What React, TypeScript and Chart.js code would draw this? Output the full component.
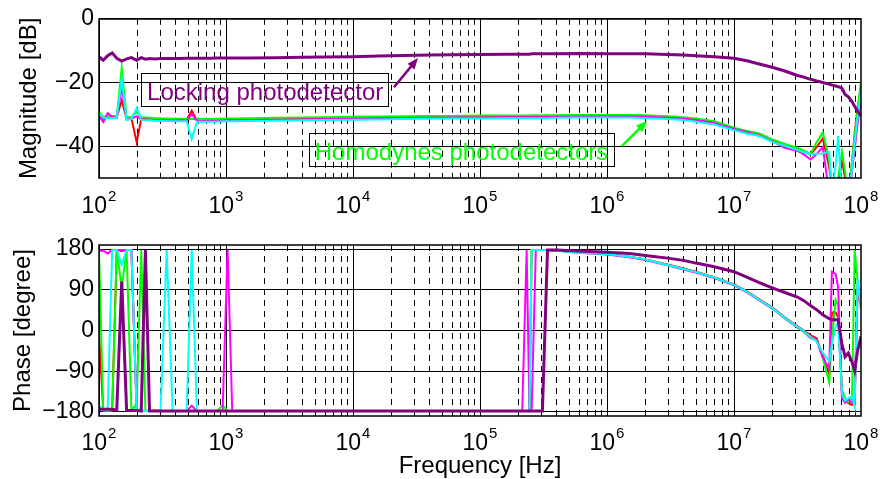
import React, { useEffect, useRef } from 'react';
import { Chart, registerables } from 'chart.js';

Chart.register(...registerables);

const FONT = '"Liberation Sans", Arial, Helvetica, sans-serif';

// ---------- data ----------
const FREQ = [
  100, 108, 117, 127, 138, 151, 165, 180, 198, 215, 232, 250, 275, 305, 341, 380, 430, 490, 537, 590, 660, 750, 850, 940, 1030, 1120,
  1500, 2500, 4000, 6000, 1e4, 1.6e4, 2.5e4, 4e4, 6e4, 1e5, 1.6e5,
  2e5, 2.15e5, 2.33e5, 2.45e5, 2.55e5, 2.75e5, 3.1e5, 3.4e5,
  4e5, 6e5, 1e6, 1.5e6, 2e6, 3e6, 4e6, 5e6, 7e6, 1e7,
  1.26e7, 1.58e7, 2e7, 2.51e7, 3.16e7, 3.55e7, 4e7, 4.47e7, 5e7, 5.62e7, 5.9e7, 6.31e7, 6.6e7, 7.08e7, 7.5e7, 7.94e7, 8.5e7, 8.91e7, 9.4e7, 1e8,
];

// Magnitude [dB]
const MAG_PURPLE = [
  -11.9, -13.0, -11.6, -10.7, -12.4, -13.3, -12.6, -12.2, -13.0, -12.2, -12.7, -12.5, -12.6, -12.5, -12.5, -12.5, -12.5, -12.4, -12.4, -12.4, -12.4, -12.4, -12.3, -12.3, -12.3, -12.3,
  -12.3, -12.2, -12.1, -12.0, -11.9, -11.7, -11.5, -11.4, -11.3, -11.2, -11.1,
  -11.1, -11.1, -11.1, -11.1, -11.0, -11.0, -11.0, -11.0,
  -11.0, -10.9, -11.0, -11.0, -11.0, -11.2, -11.4, -11.6, -11.9, -12.4,
  -13.2, -14.2, -15.2, -16.4, -17.8, -18.3, -19.0, -19.5, -20.0, -20.5, -20.8, -21.1, -21.3, -21.8, -23.8, -24.5, -26.0, -27.5, -29.0, -30.5,
];
const MAG_CYAN = [
  -29.7, -31.1, -31.2, -31.2, -31.0, -18.7, -31.8, -31.5, -28.0, -31.7, -31.9, -31.9, -32.0, -32.1, -32.1, -32.2, -32.2, -32.2, -37.8, -32.3, -32.3, -32.3, -32.3, -32.2, -32.2, -32.2,
  -32.1, -32.0, -31.9, -31.8, -31.7, -31.6, -31.5, -31.4, -31.3, -31.3, -31.2,
  -31.2, -31.2, -31.2, -31.2, -31.2, -31.2, -31.2, -31.2,
  -31.1, -31.0, -31.0, -31.0, -31.2, -31.5, -31.8, -32.3, -33.2, -35.0,
  -36.0, -36.8, -38.7, -39.9, -41.2, -41.9, -42.5, -42.4, -42.3, -41.8, -55, -46, -36.8, -55, -56, -56, -47, -39, -31, -22.6,
];
const MAG_MAGENTA = [
  -30.5, -32.4, -29.6, -30.8, -31.0, -21.5, -31.6, -31.3, -30.6, -31.6, -31.6, -31.7, -31.9, -32.0, -31.9, -32.1, -31.9, -32.0, -29.9, -32.0, -32.1, -32.0, -32.1, -32.0, -31.7, -32.0,
  -31.8, -31.7, -31.6, -31.5, -31.4, -31.3, -31.2, -31.1, -31.0, -31.0, -30.9,
  -30.9, -30.9, -30.9, -30.9, -30.9, -30.9, -30.9, -30.9,
  -30.8, -30.7, -30.7, -30.7, -30.8, -31.1, -31.4, -31.8, -32.7, -34.6,
  -35.6, -36.6, -38.5, -40.5, -41.5, -42.6, -44.2, -42.5, -40.3, -55, -56, -56, -56, -56, -55, -56, -48, -41, -33, -25.6,
];
const MAG_GREEN = [
  -29.2, -30.9, -30.6, -30.5, -30.6, -15.4, -31.0, -30.8, -29.2, -30.9, -31.0, -31.1, -31.2, -31.3, -31.3, -31.4, -31.4, -31.4, -31.5, -31.4, -31.5, -31.5, -31.4, -31.4, -31.3, -31.3,
  -31.2, -31.1, -31.0, -30.9, -30.8, -30.7, -30.6, -30.5, -30.5, -30.4, -30.4,
  -30.4, -30.4, -30.4, -30.4, -30.3, -30.3, -30.3, -30.3,
  -30.3, -30.2, -30.2, -30.2, -30.3, -30.6, -30.9, -31.3, -32.2, -34.2,
  -35.2, -36.0, -37.9, -39.3, -40.6, -41.3, -42.5, -38.8, -35.7, -44, -52, -55, -50, -41.8, -48, -56, -45, -37, -29, -19.7,
];
const MAG_RED = [
  -30.0, -31.4, -31.0, -30.8, -31.0, -25.6, -31.4, -31.2, -38.8, -31.4, -31.5, -31.6, -31.8, -31.8, -31.9, -31.8, -31.9, -31.7, -28.8, -31.9, -32.0, -32.0, -31.9, -31.9, -31.9, -31.8,
  -31.7, -31.6, -31.5, -31.4, -31.3, -31.2, -31.1, -31.0, -30.9, -30.9, -30.8,
  -30.8, -30.8, -30.8, -30.8, -30.8, -30.7, -30.7, -30.7,
  -30.7, -30.6, -30.6, -30.6, -30.7, -31.0, -31.3, -31.7, -32.6, -34.5,
  -35.4, -36.3, -38.2, -39.5, -41.0, -41.7, -42.7, -40.3, -37.6, -46.5, -53, -55, -52, -44.7, -50, -56, -45, -36, -28, -21.5,
];

// Phase [degree]
const PH_PURPLE = [
  -174, -174, -174, -174, -176, 108, -177, -177, -177, -178, 178, -178, -178, -178, -178, -178, -178, -178, -178, -178, -178, -178, -178, -178, -178, -178,
  -178, -178, -178, -178, -178, -178, -178, -178, -178, -178, -178,
  -178, -178, -178, -178, -178, -178, -178, 178,
  178, 176, 173, 170, 166, 160, 155, 149, 141, 130,
  118, 106, 94, 84, 74, 66, 55, 46, 35, 26, 24, 24, 24, -30, -58, -50, -70, -89, -45, -13,
];
const PH_CYAN = [
  -165, -175, -176, 178, 178, 145, 178, 178, -177, -177, -178, -178, -178, -178, 178, -178, -178, -178, 178, -178, -178, -178, -178, -178, -178, -178,
  -178, -178, -178, -178, -178, -178, -178, -178, -178, -178, -178,
  -178, -178, -178, -178, 178, 178, 178, 178,
  177, 172, 169, 163, 157, 145, 136, 129, 117, 101,
  86, 68, 50, 28, 8, -1, -14, -24, -49, -68, -30, 8, 18, -140, -155, -150, -145, -168, 112, 53,
];
const PH_MAGENTA = [
  176, 177, 170, 178, 178, 178, 178, 178, -177, -178, -178, -178, -178, -178, -178, -178, -178, -178, -166, -178, -178, -178, -178, -178, 178, -178,
  -178, -178, -178, -178, -178, -178, -178, -178, -178, -178, -178,
  -178, -178, 178, -178, -178, 178, 178, 178,
  177, 172, 168, 162, 156, 144, 135, 128, 116, 100,
  85, 67, 49, 27, 7, -2, -15, -21, -60, -85, 130, 125, 97, -150, -160, -151, -160, -150, 105, 55,
];
const PH_GREEN = [
  178, -177, -178, -176, 178, 95, 178, -176, -163, 178, -177, -178, -178, -178, -178, -178, -178, -178, -178, -178, -178, -178, -178, -165, -178, -178,
  -178, -178, -178, -178, -178, -178, -178, -178, -178, -178, -178,
  -178, -178, -178, -178, 178, 178, 178, 178,
  177, 172, 169, 163, 157, 145, 136, 129, 117, 101,
  86, 67, 49, 27, 6, -3, -17, -22, -60, -115, -20, 68, 55, -130, -150, -158, -150, 178, 112, 46,
];
const PH_RED = [
  -5, -177, -178, -177, 178, 176, 178, 178, -177, -178, -178, -178, -177, -178, -178, -178, -178, -178, -178, -178, -178, -178, -178, -178, -178, -178,
  -178, -178, -178, -178, -178, -178, -178, -178, -178, -178, -178,
  -178, -178, -178, -178, 178, 178, 178, 178,
  177, 173, 169, 163, 157, 146, 137, 130, 118, 102,
  87, 69, 51, 29, 9, 0, -10, -17, -55, -96, 40, 40, 30, -140, -155, -160, -165, -160, 80, 60,
];

const MAG_TICKS = [-40, -20, 0];
const PHASE_TICKS = [-180, -90, 0, 90, 180];
const DECADES = [2, 3, 4, 5, 6, 7, 8];

// ---------- styles ----------
const PURPLE = '#800080';
const STYLES = [
  { color: PURPLE, width: 3 },
  { color: '#00ffff', width: 2 },
  { color: '#ff00ff', width: 2 },
  { color: '#00ff00', width: 2 },
  { color: '#ff0000', width: 2 },
];

const ANNOTATIONS = [
  { text: 'Locking photodetector', color: PURPLE, at: [239, -25.6], from: [2.1e4, -21.5], to: [3.25e4, -12.35] },
  { text: 'Homodynes photodetectors', color: '#00ff00', at: [5.0e3, -44.4], from: [1.31e6, -40], to: [2.07e6, -32.1] },
];

function fmtTick(v: number) {
  return v < 0 ? '\u2212' + Math.abs(v) : String(v);
}

function makeDatasets(series: number[][]) {
  return series.map((vals, i) => ({
    data: FREQ.map((f, k) => ({ x: f, y: vals[k] })),
    borderColor: STYLES[i].color,
    borderWidth: STYLES[i].width,
    pointRadius: 0,
    tension: 0,
    fill: false,
    clip: 0,
  }));
}

function drawArrow(ctx: CanvasRenderingContext2D, x1: number, y1: number, x2: number, y2: number, color: string) {
  const a = Math.atan2(y2 - y1, x2 - x1);
  const L = 11;
  const W = 4.5;
  ctx.save();
  ctx.strokeStyle = color;
  ctx.fillStyle = color;
  ctx.lineWidth = 2.5;
  ctx.beginPath();
  ctx.moveTo(x1, y1);
  ctx.lineTo(x2 - L * 0.8 * Math.cos(a), y2 - L * 0.8 * Math.sin(a));
  ctx.stroke();
  ctx.beginPath();
  ctx.moveTo(x2, y2);
  ctx.lineTo(x2 - L * Math.cos(a) + W * Math.sin(a), y2 - L * Math.sin(a) - W * Math.cos(a));
  ctx.lineTo(x2 - L * Math.cos(a) - W * Math.sin(a), y2 - L * Math.sin(a) + W * Math.cos(a));
  ctx.closePath();
  ctx.fill();
  ctx.restore();
}

function makePlugin(kind: 'mag' | 'phase') {
  return {
    id: 'bode_' + kind,
    beforeDatasetsDraw(chart: any) {
      const { ctx, chartArea: a, scales } = chart;
      const x = scales.x;
      ctx.save();
      ctx.strokeStyle = '#000';
      ctx.lineWidth = 1;
      for (let i = 0; i < DECADES.length - 1; i++) {
        for (let m = 1; m <= 9; m++) {
          const f = m * Math.pow(10, DECADES[i]);
          const px = Math.round(x.getPixelForValue(f)) + 0.5;
          ctx.setLineDash(m === 1 ? [] : [6, 5]);
          ctx.beginPath();
          ctx.moveTo(px, a.top);
          ctx.lineTo(px, a.bottom);
          ctx.stroke();
        }
      }
      ctx.restore();
    },
    afterDraw(chart: any) {
      const { ctx, chartArea: a, scales } = chart;
      const x = scales.x;
      const y = scales.y;
      ctx.save();
      // box
      ctx.strokeStyle = '#000';
      ctx.lineWidth = 1.5;
      ctx.setLineDash([]);
      ctx.strokeRect(Math.round(a.left), Math.round(a.top), Math.round(a.right - a.left), Math.round(a.bottom - a.top));

      // x tick labels 10^n
      const base = kind === 'mag' ? 213 : 450;
      ctx.fillStyle = '#000';
      ctx.textAlign = 'left';
      ctx.textBaseline = 'alphabetic';
      for (const e of DECADES) {
        const px = x.getPixelForValue(Math.pow(10, e));
        ctx.font = `23px ${FONT}`;
        const w1 = ctx.measureText('10').width;
        ctx.font = `15px ${FONT}`;
        const w2 = ctx.measureText(String(e)).width;
        const sx = px - (w1 + w2 + 1) / 2;
        ctx.font = `23px ${FONT}`;
        ctx.fillText('10', sx, base);
        ctx.font = `15px ${FONT}`;
        ctx.fillText(String(e), sx + w1 + 1, base - 12);
      }

      // y title
      ctx.font = `24px ${FONT}`;
      ctx.textAlign = 'center';
      ctx.textBaseline = 'middle';
      ctx.save();
      ctx.translate(kind === 'mag' ? 29 : 23, (a.top + a.bottom) / 2);
      ctx.rotate(-Math.PI / 2);
      ctx.fillText(kind === 'mag' ? 'Magnitude [dB]' : 'Phase [degree]', 0, 0);
      ctx.restore();

      if (kind === 'phase') {
        ctx.textBaseline = 'alphabetic';
        ctx.fillText('Frequency [Hz]', (a.left + a.right) / 2, 473);
      } else {
        for (const an of ANNOTATIONS) {
          ctx.font = `24px ${FONT}`;
          const tx = x.getPixelForValue(an.at[0]);
          const ty = y.getPixelForValue(an.at[1]);
          const w = ctx.measureText(an.text).width;
          const bx = Math.round(tx - 6) + 0.5;
          const by = Math.round(ty - 27) + 0.5;
          const bw = Math.round(w + 11);
          const bh = 33;
          ctx.strokeStyle = '#000';
          ctx.lineWidth = 1;
          ctx.strokeRect(bx, by, bw, bh);
          ctx.fillStyle = an.color;
          ctx.textAlign = 'left';
          ctx.textBaseline = 'alphabetic';
          ctx.fillText(an.text, tx, ty);
          drawArrow(
            ctx,
            x.getPixelForValue(an.from[0]), y.getPixelForValue(an.from[1]),
            x.getPixelForValue(an.to[0]), y.getPixelForValue(an.to[1]),
            an.color,
          );
        }
      }
      ctx.restore();
    },
  };
}

function makeConfig(kind: 'mag' | 'phase'): any {
  const isMag = kind === 'mag';
  const series = isMag
    ? [MAG_PURPLE, MAG_CYAN, MAG_MAGENTA, MAG_GREEN, MAG_RED]
    : [PH_PURPLE, PH_CYAN, PH_MAGENTA, PH_GREEN, PH_RED];
  const ticks = isMag ? MAG_TICKS : PHASE_TICKS;
  return {
    type: 'line',
    data: { datasets: makeDatasets(series) },
    plugins: [makePlugin(kind)],
    options: {
      animation: false,
      responsive: false,
      devicePixelRatio: 1,
      events: [],
      layout: {
        autoPadding: false,
        padding: isMag
          ? { left: 0, right: 19, top: 8, bottom: 301 }
          : { left: 0, right: 19, top: 245, bottom: 63 },
      },
      plugins: { legend: { display: false }, tooltip: { enabled: false }, title: { display: false } },
      scales: {
        x: {
          type: 'logarithmic',
          min: 100,
          max: 1e8,
          afterFit: (s: any) => { s.height = 0; },
          ticks: { display: false },
          grid: { display: false },
          border: { display: false },
        },
        y: {
          type: 'linear',
          min: isMag ? -50 : -189,
          max: isMag ? 0 : 189,
          afterBuildTicks: (s: any) => { s.ticks = ticks.map((v) => ({ value: v })); },
          afterFit: (s: any) => { s.width = 99; },
          ticks: {
            font: { family: FONT, size: 23 },
            color: '#000',
            padding: 5,
            callback: (v: number) => fmtTick(v),
          },
          grid: { color: '#000', lineWidth: 1, drawTicks: false },
          border: { display: false },
        },
      },
    },
  };
}

export default function App() {
  const topRef = useRef<HTMLCanvasElement>(null);
  const botRef = useRef<HTMLCanvasElement>(null);
  useEffect(() => {
    const c1 = new Chart(topRef.current as HTMLCanvasElement, makeConfig('mag'));
    const c2 = new Chart(botRef.current as HTMLCanvasElement, makeConfig('phase'));
    return () => {
      c1.destroy();
      c2.destroy();
    };
  }, []);
  return (
    <div style={{ position: 'absolute', left: 0, top: 0, width: 880, height: 479, background: '#fff', overflow: 'hidden' }}>
      <canvas ref={botRef} width={880} height={479} style={{ position: 'absolute', left: 0, top: 0 }} />
      <canvas ref={topRef} width={880} height={479} style={{ position: 'absolute', left: 0, top: 0 }} />
    </div>
  );
}
